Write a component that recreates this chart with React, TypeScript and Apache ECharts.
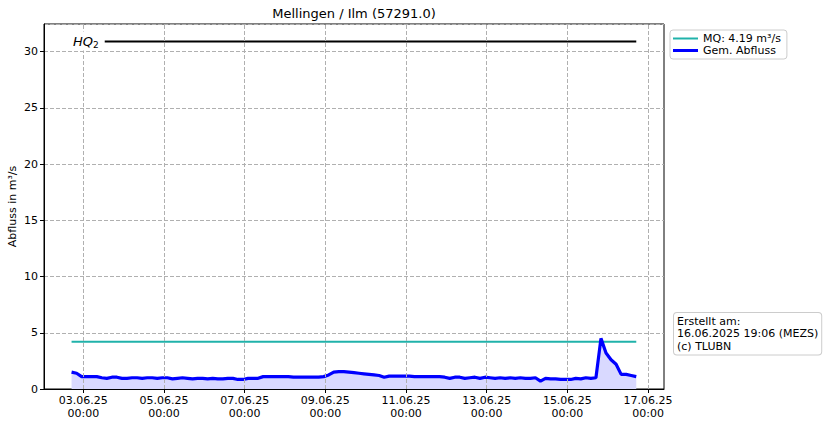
import React, { useEffect, useRef } from 'react';
import * as echarts from 'echarts';

// measurement series: 3-hourly mean discharge, first value at 02.06.2025 17:00
const seriesStart = Date.UTC(2025, 5, 2, 17, 0);
const stepHours = 3;
const flowValues = [
  1.5, 1.4, 1.1, 1.1, 1.1, 1.1, 1.0, 0.95,
  1.05, 1.05, 0.95, 0.95, 1.0, 1.0, 0.95, 1.0,
  1.0, 0.95, 1.0, 1.0, 0.9, 0.95, 1.0, 0.95,
  0.9, 0.95, 0.95, 0.9, 0.95, 0.9, 0.9, 0.95,
  0.95, 0.85, 0.85, 0.95, 0.95, 0.95, 1.1, 1.1,
  1.1, 1.1, 1.1, 1.1, 1.05, 1.05, 1.05, 1.05,
  1.05, 1.05, 1.1, 1.25, 1.5, 1.55, 1.55, 1.5,
  1.45, 1.4, 1.35, 1.3, 1.25, 1.2, 1.05, 1.15,
  1.15, 1.15, 1.15, 1.15, 1.1, 1.1, 1.1, 1.1,
  1.1, 1.1, 1.05, 0.95, 1.05, 1.05, 0.95, 1.0,
  1.05, 0.95, 1.05, 1.0, 0.95, 1.0, 0.95, 1.0,
  0.95, 1.0, 0.95, 0.95, 1.0, 0.7, 0.95, 0.9,
  0.9, 0.85, 0.85, 0.85, 0.95, 0.9, 1.0, 0.95,
  1.0, 4.5, 3.2, 2.6, 2.2, 1.3, 1.3, 1.2,
  1.1,
];

const mqValue = 4.19;
const hq2Value = 30.9;

const xTickDays = ['2025-06-03', '2025-06-05', '2025-06-07', '2025-06-09', '2025-06-11', '2025-06-13', '2025-06-15', '2025-06-17'];
const xMin = Date.UTC(2025, 5, 2, 0, 36);
const xMax = Date.UTC(2025, 5, 17, 9, 30);
const yMax = 32.45;

const titleText = 'Mellingen / Ilm (57291.0)';
const yAxisName = 'Abfluss in m³/s';
const mqName = 'MQ: 4.19 m³/s';
const flowName = 'Gem. Abfluss';
const footnote = 'Erstellt am:\n16.06.2025 19:06 (MEZS)\n(c) TLUBN';

const FONT = 'DejaVu Sans, sans-serif';
const GRID_LINE = { color: '#b0b0b0', type: [4, 2], width: 1 };

const pad = (n: number) => String(n).padStart(2, '0');

const App: React.FC = () => {
  const chartRef = useRef<HTMLDivElement>(null);

  useEffect(() => {
    if (!chartRef.current) return;
    const chart = echarts.init(chartRef.current, null, { renderer: 'svg' });

    const flowData = flowValues.map((v, i) => [seriesStart + i * stepHours * 3600 * 1000, v]);
    const tFirst = flowData[0][0];
    const tLast = flowData[flowData.length - 1][0];
    const tickValues = xTickDays.map((d) => Date.parse(d + 'T00:00:00Z'));

    chart.setOption({
      animation: false,
      textStyle: { fontFamily: FONT },
      grid: {
        left: 44,
        right: 163,
        top: 24,
        bottom: 37,
        outerBoundsMode: 'none',
        containLabel: false,
        show: true,
        borderColor: '#000',
        borderWidth: 1,
        backgroundColor: 'transparent',
      },
      legend: {
        data: [
          { name: mqName, icon: 'path://M0,0h25v2h-25z' },
          { name: flowName, icon: 'path://M0,0h25v3h-25z' },
        ],
        orient: 'vertical',
        left: 670,
        top: 30,
        padding: [3, 6, 3, 3],
        itemWidth: 25,
        itemHeight: 14,
        itemGap: 1,
        backgroundColor: '#fff',
        borderColor: '#ccc',
        borderWidth: 1,
        borderRadius: 3,
        textStyle: { fontSize: 11, color: '#000', fontFamily: FONT },
      },
      xAxis: {
        type: 'value',
        min: xMin,
        max: xMax,
        axisLine: { show: true, lineStyle: { color: '#000', width: 1 } },
        axisTick: {
          show: true,
          inside: false,
          length: 4,
          customValues: tickValues,
          lineStyle: { color: '#000' },
        },
        axisLabel: {
          customValues: tickValues,
          fontSize: 11,
          color: '#000',
          lineHeight: 13,
          margin: 5,
          fontFamily: FONT,
          formatter: (v: number) => {
            const d = new Date(v);
            return `${pad(d.getUTCDate())}.${pad(d.getUTCMonth() + 1)}.${String(d.getUTCFullYear()).slice(2)}\n${pad(d.getUTCHours())}:${pad(d.getUTCMinutes())}`;
          },
        },
        splitLine: { show: false },
      },
      yAxis: {
        type: 'value',
        min: 0,
        max: yMax,
        interval: 5,
        name: yAxisName,
        nameLocation: 'middle',
        nameGap: 26,
        nameMoveOverlap: false,
        nameTextStyle: { fontSize: 11, color: '#000', fontFamily: FONT },
        axisLine: { show: true, lineStyle: { color: '#000', width: 1 } },
        axisTick: { show: true, length: 4, lineStyle: { color: '#000' } },
        axisLabel: {
          fontSize: 11,
          color: '#000',
          margin: 6,
          fontFamily: FONT,
          showMaxLabel: false,
        },
        splitLine: { show: true, lineStyle: GRID_LINE },
      },
      series: [
        {
          // vertical grid lines at the date ticks
          name: 'vgrid',
          type: 'line',
          data: [],
          silent: true,
          z: 1,
          markLine: {
            silent: true,
            symbol: ['none', 'none'],
            label: { show: false },
            lineStyle: GRID_LINE,
            emphasis: { disabled: true },
            data: tickValues.map((t) => ({ xAxis: t })),
          },
        },
        {
          name: 'HQ2',
          type: 'line',
          data: [[tFirst, hq2Value], [tLast, hq2Value]],
          symbol: 'none',
          lineStyle: { color: '#000', width: 2 },
          z: 3,
        },
        {
          name: mqName,
          type: 'line',
          data: [[tFirst, mqValue], [tLast, mqValue]],
          symbol: 'none',
          itemStyle: { color: '#20b2aa' },
          lineStyle: { color: '#20b2aa', width: 2 },
          z: 3,
        },
        {
          name: flowName,
          type: 'line',
          data: flowData,
          symbol: 'none',
          itemStyle: { color: '#0000ff' },
          lineStyle: { color: '#0000ff', width: 3.2 },
          areaStyle: { color: 'rgb(217,217,255)', opacity: 1, origin: 'start' },
          z: 4,
        },
      ],
      graphic: [
        {
          type: 'text',
          x: 354,
          y: 13,
          style: {
            text: titleText,
            fontSize: 13,
            fontFamily: FONT,
            fill: '#000',
            align: 'center',
            verticalAlign: 'middle',
          },
        },
        {
          type: 'text',
          x: 67,
          y: 41,
          z: 100,
          style: {
            text: '{a|HQ}{b|2}',
            verticalAlign: 'middle',
            backgroundColor: '#fff',
            padding: [3, 6, 3, 6],
            rich: {
              a: { fontSize: 13, fontStyle: 'italic', fontFamily: FONT, fill: '#000', verticalAlign: 'bottom' },
              b: { fontSize: 9, fontFamily: FONT, fill: '#000', verticalAlign: 'bottom', padding: [0, 0, -2, 0] },
            },
          },
        },
        {
          type: 'text',
          x: 674,
          y: 313,
          z: 100,
          style: {
            text: footnote,
            fontSize: 11,
            lineHeight: 12.5,
            fontFamily: FONT,
            fill: '#000',
            backgroundColor: '#fff',
            borderColor: '#ccc',
            borderWidth: 1,
            borderRadius: 3,
            padding: [2, 3, 2, 3],
          },
        },
      ],
    });

    return () => {
      chart.dispose();
    };
  }, []);

  return (
    <div
      ref={chartRef}
      style={{ position: 'fixed', left: 0, top: 0, width: '827px', height: '426px', background: '#fff' }}
    />
  );
};

export default App;
